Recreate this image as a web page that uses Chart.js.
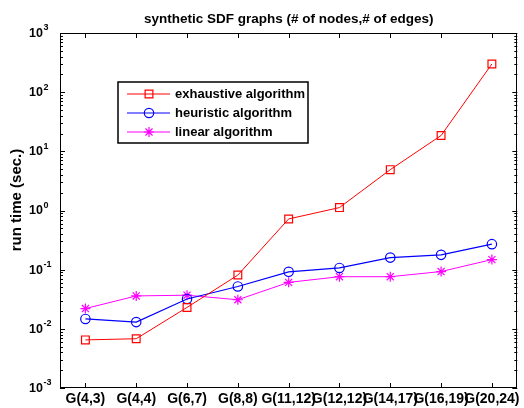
<!DOCTYPE html>
<html>
<head>
<meta charset="utf-8">
<script src="https://cdn.jsdelivr.net/npm/chart.js@4.4.1/dist/chart.umd.min.js"></script>
<style>
  body { margin: 0; background: #fff; }
  canvas { display: block; }
</style>
</head>
<body>
<canvas id="runChart" width="524" height="408"></canvas>
<script>
const categories = ["G(4,3)", "G(4,4)", "G(6,7)", "G(8,8)", "G(11,12)", "G(12,12)", "G(14,17)", "G(16,19)", "G(20,24)"];
const exhaustive = [0.0065, 0.0068, 0.023, 0.081, 0.72, 1.12, 4.9, 18.5, 300];
const heuristic = [0.0147, 0.013, 0.032, 0.052, 0.092, 0.107, 0.16, 0.178, 0.27];
const linear = [0.022, 0.036, 0.037, 0.031, 0.061, 0.076, 0.076, 0.093, 0.148];
const decadeExps = [-3, -2, -1, 0, 1, 2, 3];

const FONT = '"Liberation Sans", Arial, sans-serif';

// frame, inward ticks, tick labels, titles and legend
const matlabAxes = {
    id: 'matlabAxes',
    afterDraw(chart) {
        const ctx = chart.ctx;
        const a = chart.chartArea;
        const xs = chart.scales.x;
        const ys = chart.scales.y;
        ctx.save();
        ctx.strokeStyle = '#000';
        ctx.lineWidth = 1;
        ctx.strokeRect(Math.round(a.left) + 0.5, Math.round(a.top) + 0.5,
            Math.round(a.right - a.left) - 1, Math.round(a.bottom - a.top) - 1);

        // x ticks top and bottom
        ctx.beginPath();
        categories.forEach((c, i) => {
            const px = Math.round(xs.getPixelForValue(i)) + 0.5;
            ctx.moveTo(px, a.bottom); ctx.lineTo(px, a.bottom - 5);
            ctx.moveTo(px, a.top); ctx.lineTo(px, a.top + 5);
        });
        // y ticks left and right
        decadeExps.forEach(e => {
            for (let m = 1; m <= 9; m++) {
                const v = m * Math.pow(10, e);
                if (v > ys.max * 1.0001) break;
                const py = Math.round(ys.getPixelForValue(v)) + 0.5;
                const len = m === 1 ? 5 : 3;
                ctx.moveTo(a.left, py); ctx.lineTo(a.left + len, py);
                ctx.moveTo(a.right, py); ctx.lineTo(a.right - len, py);
            }
        });
        ctx.stroke();

        ctx.fillStyle = '#000';
        // x labels
        ctx.font = 'bold 14px ' + FONT;
        ctx.textAlign = 'center';
        ctx.textBaseline = 'middle';
        categories.forEach((c, i) => {
            ctx.fillText(c, xs.getPixelForValue(i), 399);
        });
        // y labels 10^n
        decadeExps.forEach(e => {
            const py = ys.getPixelForValue(Math.pow(10, e));
            ctx.font = 'bold 12.5px ' + FONT;
            ctx.textAlign = 'left';
            ctx.textBaseline = 'middle';
            ctx.fillText('10', 29, py + 0.5);
            const w = ctx.measureText('10').width;
            ctx.font = 'bold 9px ' + FONT;
            ctx.fillText(String(e), 29 + w + 0.5, py - 5);
        });

        // title
        ctx.font = 'bold 13.5px ' + FONT;
        ctx.textAlign = 'center';
        ctx.textBaseline = 'middle';
        ctx.fillText('synthetic SDF graphs (# of nodes,# of edges)', (a.left + a.right) / 2, 19.5);
        // y axis title
        ctx.save();
        ctx.font = 'bold 15px ' + FONT;
        ctx.translate(17, 200);
        ctx.rotate(-Math.PI / 2);
        ctx.fillText('run time (sec.)', 0, 0);
        ctx.restore();

        // legend box
        const lx = 118, ly = 82, lw = 190, lh = 61;
        ctx.fillStyle = '#fff';
        ctx.fillRect(lx, ly, lw, lh);
        ctx.lineWidth = 1.5;
        ctx.strokeRect(lx, ly, lw, lh);
        const rows = [94, 113, 132];
        chart.data.datasets.forEach((ds, i) => {
            const y = rows[i];
            ctx.strokeStyle = ds.borderColor;
            ctx.lineWidth = ds.borderWidth;
            ctx.beginPath();
            ctx.moveTo(127, y); ctx.lineTo(170, y);
            ctx.stroke();
            ctx.strokeStyle = ds.pointBorderColor;
            ctx.fillStyle = ds.pointBackgroundColor;
            ctx.lineWidth = ds.pointBorderWidth;
            Chart.helpers.drawPoint(ctx, {pointStyle: ds.pointStyle, radius: ds.pointRadius, rotation: 0, borderWidth: ds.pointBorderWidth}, 149, y);
            ctx.fillStyle = '#000';
            ctx.font = 'bold 13px ' + FONT;
            ctx.textAlign = 'left';
            ctx.textBaseline = 'middle';
            ctx.fillText(ds.label, 175, y);
        });
        ctx.restore();
    }
};

new Chart(document.getElementById('runChart'), {
    type: 'line',
    data: {
        labels: categories,
        datasets: [
            {
                label: 'exhaustive algorithm',
                data: exhaustive,
                borderColor: '#ff0000',
                borderWidth: 1,
                pointStyle: 'rect',
                pointRadius: 5.5,
                pointBorderWidth: 1.2,
                pointBorderColor: '#ff0000',
                pointBackgroundColor: 'rgba(0,0,0,0)'
            },
            {
                label: 'heuristic algorithm',
                data: heuristic,
                borderColor: '#0000ff',
                borderWidth: 1.2,
                pointStyle: 'circle',
                pointRadius: 4.7,
                pointBorderWidth: 1.2,
                pointBorderColor: '#0000ff',
                pointBackgroundColor: 'rgba(0,0,0,0)'
            },
            {
                label: 'linear algorithm',
                data: linear,
                borderColor: '#ff00ff',
                borderWidth: 1,
                pointStyle: 'star',
                pointRadius: 5,
                pointBorderWidth: 1.2,
                pointBorderColor: '#ff00ff',
                pointBackgroundColor: '#ff00ff'
            }
        ]
    },
    options: {
        responsive: false,
        animation: false,
        layout: { padding: { left: 60, right: 1, top: 33, bottom: 20 } },
        plugins: { legend: { display: false }, title: { display: false }, tooltip: { enabled: false } },
        elements: { line: { tension: 0 } },
        scales: {
            x: { type: 'category', offset: true, display: false },
            y: { type: 'logarithmic', min: 0.001, max: 1000, display: false }
        }
    },
    plugins: [matlabAxes]
});
</script>
</body>
</html>
